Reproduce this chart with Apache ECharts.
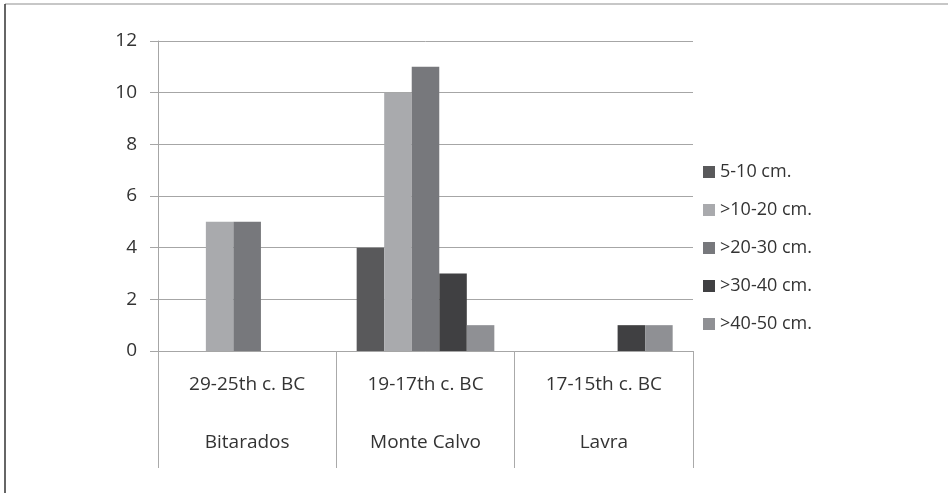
<!DOCTYPE html>
<html>
<head>
<meta charset="utf-8">
<script src="https://cdn.jsdelivr.net/npm/echarts@6/dist/echarts.min.js"></script>
<style>
  html, body { margin: 0; padding: 0; background: #fff; }
  #chart { width: 948px; height: 493px; }
</style>
</head>
<body>
<div id="chart"></div>
<script>
// Categories: period and site, shown as two label rows under each group
const periods = ['29-25th c. BC', '19-17th c. BC', '17-15th c. BC'];
const sites = ['Bitarados', 'Monte Calvo', 'Lavra'];

// Size classes (legend) and counts per site
const sizeClasses = ['5-10 cm.', '>10-20 cm.', '>20-30 cm.', '>30-40 cm.', '>40-50 cm.'];
const size5to10 = [0, 4, 0];
const size10to20 = [5, 10, 0];
const size20to30 = [5, 11, 0];
const size30to40 = [0, 3, 1];
const size40to50 = [0, 1, 1];

const yTicks = [0, 2, 4, 6, 8, 10, 12];

const seriesValues = [size5to10, size10to20, size20to30, size30to40, size40to50];
const seriesColors = ['#59595b', '#a9aaad', '#77787c', '#404042', '#8f9094'];

const FONT = "'Open Sans', 'DejaVu Sans', sans-serif";
const chart = echarts.init(document.getElementById('chart'));

chart.setOption({
  animation: false,
  backgroundColor: '#ffffff',
  textStyle: { fontFamily: FONT },
  grid: { left: 158, right: 255, top: 41, bottom: 142, containLabel: false },
  legend: {
    orient: 'vertical',
    left: 703,
    top: 160,
    padding: 0,
    itemWidth: 12,
    itemHeight: 12,
    itemGap: 14,
    icon: 'rect',
    data: sizeClasses,
    textStyle: { fontSize: 18, color: '#333', fontFamily: FONT, lineHeight: 24 }
  },
  xAxis: {
    type: 'category',
    data: periods.map((p, i) => p + '\n' + sites[i]),
    boundaryGap: true,
    axisLine: { show: true, lineStyle: { color: '#a6a6a6', width: 1 } },
    axisTick: { show: true, length: 117, interval: 0, lineStyle: { color: '#aaaaaa', width: 1 } },
    axisLabel: {
      interval: 0,
      margin: 5,
      fontSize: 19,
      lineHeight: 58,
      color: '#333',
      fontFamily: FONT
    }
  },
  yAxis: {
    type: 'value',
    min: yTicks[0],
    max: yTicks[yTicks.length - 1],
    interval: 2,
    axisLine: { show: true, lineStyle: { color: '#a6a6a6', width: 1 } },
    axisTick: { show: true, length: 8, lineStyle: { color: '#a6a6a6' } },
    axisLabel: { margin: 21, fontSize: 19, color: '#333', fontFamily: FONT },
    splitLine: { show: true, lineStyle: { color: '#a6a6a6', width: 1 } }
  },
  series: sizeClasses.map((name, i) => ({
    name: name,
    type: 'bar',
    data: seriesValues[i],
    barGap: 0,
    barCategoryGap: '22.8%',
    itemStyle: { color: seriesColors[i] }
  })),
  color: seriesColors,
  graphic: [
    { type: 'line', shape: { x1: 5, y1: 4, x2: 948, y2: 4 }, style: { stroke: '#b5b5b5', lineWidth: 1.5 }, silent: true },
    { type: 'line', shape: { x1: 5, y1: 4, x2: 5, y2: 493 }, style: { stroke: '#333333', lineWidth: 1.5 }, silent: true }
  ]
});
</script>
</body>
</html>
